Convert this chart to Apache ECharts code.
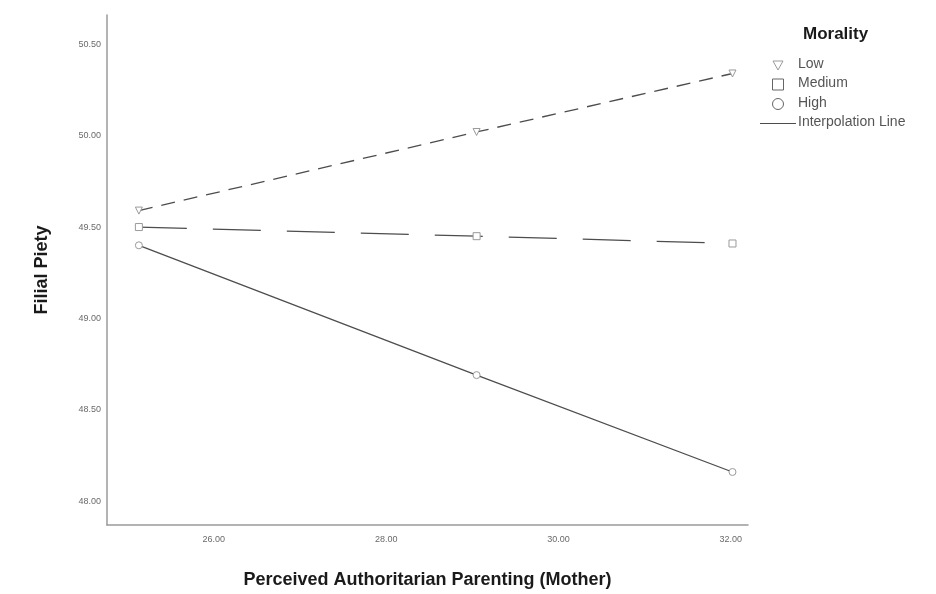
<!DOCTYPE html>
<html>
<head>
<meta charset="utf-8">
<script src="https://cdn.jsdelivr.net/npm/echarts@6/dist/echarts.min.js"></script>
<style>
  html, body { margin: 0; padding: 0; background: #fff; }
  #chart { width: 936px; height: 594px; }
</style>
</head>
<body>
<div id="chart"></div>
<script>
// Parenting levels (mean - SD, mean, mean + SD) on the x axis
const parentingLevels = [25.13, 29.05, 32.02];

// Predicted filial piety at each parenting level, one list per morality group
const lowMorality = [49.59, 50.02, 50.34];
const mediumMorality = [49.50, 49.45, 49.41];
const highMorality = [49.40, 48.69, 48.16];

const groupNames = ['Low', 'Medium', 'High'];
const legendTitle = 'Morality';
const lineLegendLabel = 'Interpolation Line';

const xTicks = [26, 28, 30, 32];
const yTicks = [48.0, 48.5, 49.0, 49.5, 50.0, 50.5];

const toPairs = (ys) => parentingLevels.map((x, i) => [x, ys[i]]);

const LINE_COLOR = '#4d4d4d';
const MARK_COLOR = '#9a9a9a';
const FONT = 'Liberation Sans, Arial, sans-serif';

const triangleDown = 'path://M0,0 L10,0 L5,9 Z';

function groupSeries(name, values, symbol, dash) {
  return {
    name: name,
    type: 'line',
    data: toPairs(values),
    symbol: symbol,
    symbolSize: 7,
    showSymbol: true,
    itemStyle: { color: '#fff', borderColor: MARK_COLOR, borderWidth: 1 },
    lineStyle: { color: LINE_COLOR, width: 1.3, type: dash },
    emphasis: { disabled: true },
    z: 3
  };
}

const chart = echarts.init(document.getElementById('chart'), null, { renderer: 'canvas' });

// Legend block drawn at the upper right
const mkX = 778, txtX = 798, lgTop = 65, lgStep = 19.5;
const legendGraphics = [
  {
    type: 'text', left: 803, top: 26,
    style: { text: legendTitle, font: 'bold 17px ' + FONT, fill: '#1a1a1a' }
  },
  {
    type: 'polygon',
    shape: { points: [[mkX - 5, lgTop - 4], [mkX + 5, lgTop - 4], [mkX, lgTop + 5]] },
    style: { fill: '#fff', stroke: MARK_COLOR, lineWidth: 1 }
  },
  {
    type: 'rect',
    shape: { x: mkX - 5.5, y: lgTop + lgStep - 5.5, width: 11, height: 11 },
    style: { fill: '#fff', stroke: '#666', lineWidth: 1 }
  },
  {
    type: 'circle',
    shape: { cx: mkX, cy: lgTop + 2 * lgStep, r: 5.5 },
    style: { fill: '#fff', stroke: '#666', lineWidth: 1 }
  },
  {
    type: 'line',
    shape: { x1: 760, y1: lgTop + 3 * lgStep, x2: 796, y2: lgTop + 3 * lgStep },
    style: { stroke: LINE_COLOR, lineWidth: 1.2 }
  }
];
groupNames.concat([lineLegendLabel]).forEach((label, i) => {
  legendGraphics.push({
    type: 'text', left: txtX, top: lgTop + i * lgStep - 8,
    style: { text: label, font: '14px ' + FONT, fill: '#555' }
  });
});

chart.setOption({
  animation: false,
  backgroundColor: '#fff',
  grid: { left: 107, right: 188, top: 15, bottom: 69, containLabel: false },
  xAxis: {
    type: 'value',
    min: 24.76,
    max: 32.2,
    name: 'Perceived Authoritarian Parenting (Mother)',
    nameLocation: 'middle',
    nameGap: 46,
    nameTextStyle: { fontFamily: FONT, fontWeight: 'bold', fontSize: 18, color: '#1a1a1a' },
    axisLine: { show: true, lineStyle: { color: '#9a9a9a', width: 1.5 } },
    axisTick: { show: false },
    splitLine: { show: false },
    axisLabel: {
      customValues: xTicks,
      margin: 10,
      fontFamily: FONT,
      fontSize: 9,
      color: '#6a6a6a',
      formatter: (v) => v.toFixed(2)
    }
  },
  yAxis: {
    type: 'value',
    min: 47.87,
    max: 50.66,
    name: 'Filial Piety',
    nameLocation: 'middle',
    nameGap: 56,
    nameTextStyle: { fontFamily: FONT, fontWeight: 'bold', fontSize: 18, color: '#1a1a1a' },
    axisLine: { show: true, lineStyle: { color: '#9a9a9a', width: 1.5 } },
    axisTick: { show: false },
    splitLine: { show: false },
    axisLabel: {
      customValues: yTicks,
      margin: 6,
      fontFamily: FONT,
      fontSize: 9,
      color: '#6a6a6a',
      formatter: (v) => v.toFixed(2)
    }
  },
  graphic: legendGraphics,
  series: [
    groupSeries(groupNames[0], lowMorality, triangleDown, [14, 9]),
    groupSeries(groupNames[1], mediumMorality, 'rect', [48, 26]),
    groupSeries(groupNames[2], highMorality, 'circle', 'solid')
  ]
});
</script>
</body>
</html>
